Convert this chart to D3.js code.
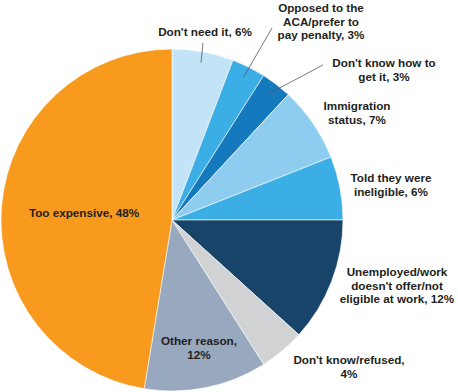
<!DOCTYPE html>
<html><head><meta charset="utf-8">
<script src="https://cdn.jsdelivr.net/npm/d3@7"></script>
<style>body{margin:0;background:#fff}svg{display:block}text{font-family:"Liberation Sans",Arial,sans-serif;font-weight:bold;fill:#231f20}</style>
</head><body><svg id="c" width="458" height="392"></svg>
<script>
const categories = ["Don't need it","Opposed to the ACA/prefer to pay penalty","Don't know how to get it","Immigration status","Told they were ineligible","Unemployed/work doesn't offer/not eligible at work","Don't know/refused","Other reason","Too expensive"];
const values = [5.8, 3.2, 2.9, 7.1, 6.0, 11.7, 4.3, 11.6, 47.4];
const labelLines = [
  ["Don't need it, 6%"],
  ["Opposed to the","ACA/prefer to","pay penalty, 3%"],
  ["Don't know how to","get it, 3%"],
  ["Immigration","status, 7%"],
  ["Told they were","ineligible, 6%"],
  ["Unemployed/work","doesn't offer/not","eligible at work, 12%"],
  ["Don't know/refused,","4%"],
  ["Other reason,","12%"],
  ["Too expensive, 48%"]
];
const colors = ["#c2e4f6","#3caee6","#1479bd","#8ecdf0","#3caee6","#174468","#d1d2d4","#97a8bf","#f79a1e"];
// layout: label anchor (center x, first-line center y), leader line outer end
const labelPos = [[205,32],[321,8],[384,63],[357,106],[391,178],[397,272],[349,360],[199,341],[84,213]];
const leaders = {0:[203,43],1:[272,28],2:[323,65]};

const svg = d3.select("#c");
const cx = 172, cy = 220, R = 171;
const g = svg.append("g").attr("transform",`translate(${cx},${cy})`);
const pie = d3.pie().sort(null).value(d=>d);
const arcs = pie(values);
const arc = d3.arc().innerRadius(0).outerRadius(R);
g.selectAll("path").data(arcs).join("path")
  .attr("d",arc).attr("fill",(d,i)=>colors[i])
  .attr("stroke","#fff").attr("stroke-width",0.6);

const inner = d3.arc().innerRadius(160).outerRadius(160);
Object.keys(leaders).forEach(k=>{
  const c = inner.centroid(arcs[k]);
  svg.append("line").attr("x1",cx+c[0]).attr("y1",cy+c[1])
    .attr("x2",leaders[k][0]).attr("y2",leaders[k][1])
    .attr("stroke","#555").attr("stroke-width",0.8);
});

labelLines.forEach((lines,i)=>{
  const t = svg.append("text").attr("text-anchor","middle").attr("font-size",11.7);
  lines.forEach((l,j)=>{
    t.append("tspan").attr("x",labelPos[i][0]).attr("y",labelPos[i][1]+j*13.5+4.2).text(l);
  });
});
</script></body></html>
